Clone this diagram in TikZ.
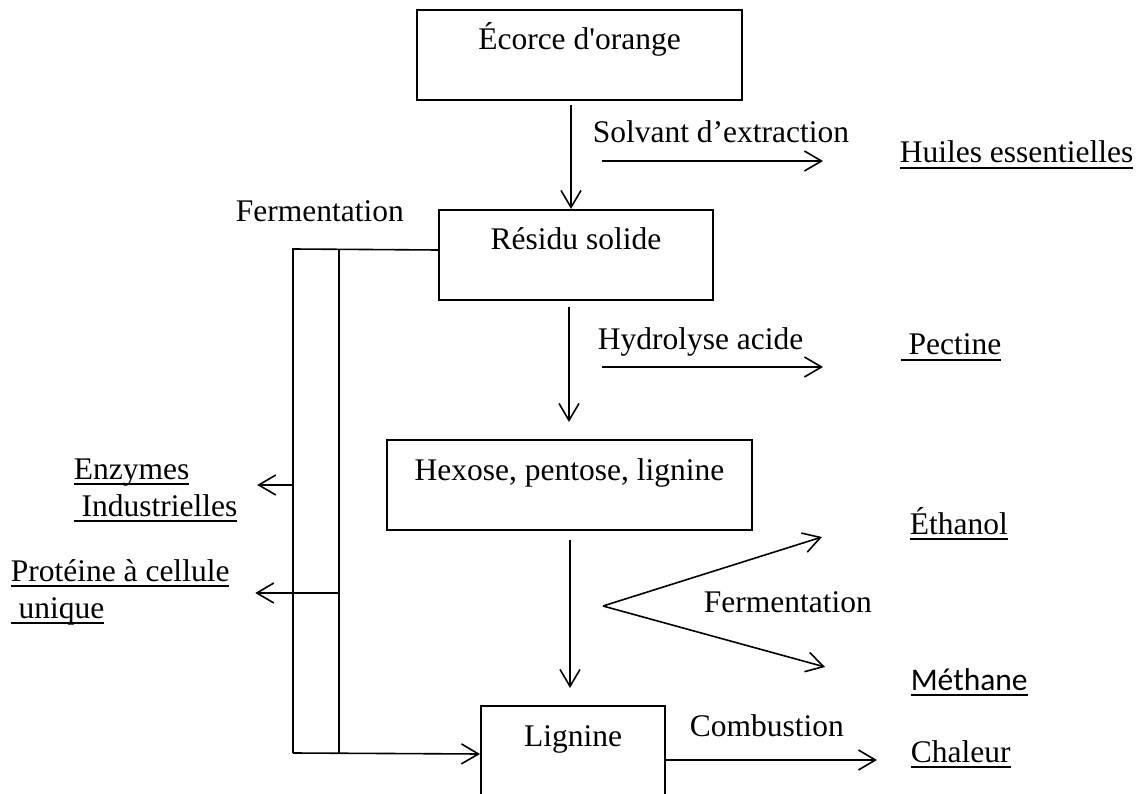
\documentclass[tikz,border=0pt]{standalone}
\usepackage{fontspec}
\setmainfont{Liberation Serif}
\newfontfamily\calibri{Carlito}
\usetikzlibrary{arrows.meta}

\newcommand\souligne[1]{\sbox0{#1}\usebox0\llap{\rule[-6pt]{\wd0}{1.8pt}}}

\begin{document}
\begin{tikzpicture}[x=1pt,y=-1pt,->,>={Straight Barb[length=17pt,width=20pt]},
                    line width=1.6pt,font=\fontsize{31.5}{37}\selectfont]

  \tikzstyle{boite}=[draw,line width=2pt,inner sep=0pt,anchor=north,text height=40pt,text depth=50pt]
  \tikzstyle{texte}=[inner sep=0pt,anchor=base west,align=left]
  \tikzstyle{trait}=[-]

  \useasboundingbox (0,0) rectangle (1141,794);

  \node[boite,minimum width=325pt] (ecorce)  at (579.5,9)   {Écorce d\textquotesingle orange};
  \node[boite,minimum width=274pt] (residu)  at (576,209)   {Résidu solide};
  \node[boite,minimum width=365pt] (hexose)  at (569.5,439) {Hexose, pentose, lignine};
  \node[boite,minimum width=184pt] (lignine) at (573,705)   {Lignine};

  \node[texte] (huiles)   at (899,163) {\souligne{Huiles essentielles}};
  \node[texte] (pectine)  at (900,355) {\souligne{\ Pectine}};
  \node[texte] (ethanol)  at (909,534) {\souligne{Éthanol}};
  \node[texte,font=\calibri\fontsize{31.5}{37}\selectfont] (methane) at (910,690) {\souligne{Méthane}};
  \node[texte] (chaleur)  at (910,762) {\souligne{Chaleur}};
  % base = last line
  \node[texte] (enzymes)  at (73,516)  {\souligne{Enzymes}\\\souligne{\ Industrielles}};
  \node[texte] (proteine) at (10,618)  {\souligne{Protéine à cellule}\\\souligne{\ unique}};

  \node[texte] (lblSolvant) at (592,143) {Solvant d’extraction};
  \node[texte] (lblFermG)   at (235,222) {Fermentation};
  \node[texte] (lblHydro)   at (597,349) {Hydrolyse acide};
  \node[texte] (lblFermD)   at (703,612) {Fermentation};
  \node[texte] (lblCombu)   at (689,736) {Combustion};

  \coordinate (solv)    at (602,161);
  \coordinate (hydro)   at (602,367);
  \coordinate (fourche) at (603,606);
  \coordinate (ptEth)   at (822,537);
  \coordinate (ptMeth)  at (825,667);
  \coordinate (hautG)   at (293,249);
  \coordinate (hautD)   at (339,249);
  \coordinate (basG)    at (293,753);
  \coordinate (basD)    at (339,753);
  \coordinate (brEnz)   at (293,485);
  \coordinate (brProt)  at (339,593);

  \path
  ([xshift=-8.5pt,yshift=-4pt]ecorce.south) edge ([xshift=-5pt]residu.north)
  ([xshift=-7pt,yshift=-6pt]residu.south) edge [shorten >=17pt] ([xshift=-0.5pt]hexose.north)
  ([xshift=0.5pt,yshift=-9pt]hexose.south) edge [shorten >=17pt] ([xshift=-3pt]lignine.north)
  (solv) edge [shorten >=76pt] (solv -| huiles.west)
  (hydro) edge [shorten >=77pt] (hydro -| pectine.west)
  (fourche) edge (ptEth)
  (fourche) edge (ptMeth)
  ([yshift=-9pt]lignine.east) edge [shorten >=33pt] ([yshift=-9pt]lignine.east -| chaleur.west)
  ;

  \draw[trait] ([yshift=5pt]residu.west) -- (hautG) -- (basG);
  \draw[trait] (hautD) -- (basD);
  \draw (basG) -- ([yshift=-3pt]lignine.west);
  \draw[shorten >=19pt] (brEnz) -- (brEnz -| enzymes.east);
  \draw[shorten >=25pt] (brProt) -- (brProt -| proteine.east);
\end{tikzpicture}
\end{document}
